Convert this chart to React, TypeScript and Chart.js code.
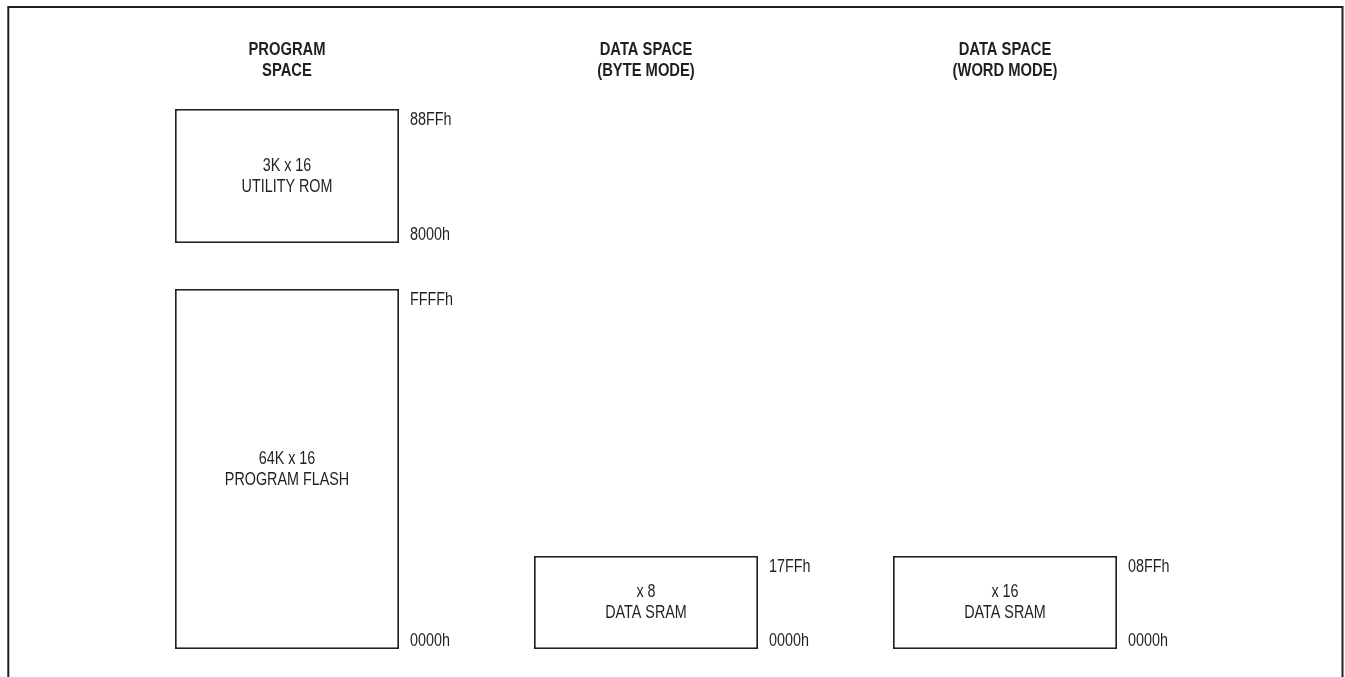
import React, { useEffect, useRef } from "react";
import { Chart, registerables } from "chart.js";

Chart.register(...registerables);

// ---- data ----
const columnKeys = ["program", "dataByte", "dataWord"];
const columnHeaders = [
  ["PROGRAM", "SPACE"],
  ["DATA SPACE", "(BYTE MODE)"],
  ["DATA SPACE", "(WORD MODE)"],
];
// block extents in schematic rows (diagram units)
const upperBlock = [[40.6, 54], null, null];
const lowerBlock = [[0, 36], [0, 9.3], [0, 9.3]];
const upperText = [["3K x 16", "UTILITY ROM"], null, null];
const lowerText = [
  ["64K x 16", "PROGRAM FLASH"],
  ["x 8", "DATA SRAM"],
  ["x 16", "DATA SRAM"],
];
const upperAddr = [["88FFh", "8000h"], null, null];
const lowerAddr = [
  ["FFFFh", "0000h"],
  ["17FFh", "0000h"],
  ["08FFh", "0000h"],
];

const FONT = "'Liberation Sans', Arial, sans-serif";
const INK = "#231f20";
const NARROW = 0.82;

function narrowText(ctx: CanvasRenderingContext2D, text: string, x: number, y: number, align: CanvasTextAlign) {
  ctx.save();
  ctx.translate(x, y);
  ctx.scale(NARROW, 1);
  ctx.textAlign = align;
  ctx.textBaseline = "alphabetic";
  ctx.fillText(text, 0, 0);
  ctx.restore();
}

const textPlugin = {
  id: "diagramText",
  beforeDraw(chart: any) {
    const { ctx, width, height } = chart;
    ctx.save();
    ctx.fillStyle = "#ffffff";
    ctx.fillRect(0, 0, width, height);
    ctx.strokeStyle = INK;
    ctx.lineWidth = 2;
    ctx.beginPath();
    ctx.moveTo(8.3, height);
    ctx.lineTo(8.3, 7);
    ctx.lineTo(1342.5, 7);
    ctx.lineTo(1342.5, height);
    ctx.stroke();
    ctx.restore();
  },
  afterDatasetsDraw(chart: any) {
    const { ctx, chartArea } = chart;
    const xs = chart.scales.x;
    ctx.save();
    ctx.fillStyle = INK;
    // column headers
    ctx.font = `bold 18px ${FONT}`;
    columnHeaders.forEach((lines, i) => {
      const x = xs.getPixelForValue(i);
      narrowText(ctx, lines[0], x, chartArea.top - 54, "center");
      narrowText(ctx, lines[1], x, chartArea.top - 33, "center");
    });
    const texts = [upperText, lowerText];
    const addrs = [upperAddr, lowerAddr];
    ctx.font = `17.5px ${FONT}`;
    chart.data.datasets.forEach((_ds: any, di: number) => {
      const meta = chart.getDatasetMeta(di);
      meta.data.forEach((bar: any, i: number) => {
        const t = texts[di][i];
        const a = addrs[di][i];
        if (!t || !a) return;
        const p = bar.getProps(["x", "y", "base", "width"], true);
        const top = Math.min(p.y, p.base);
        const bottom = Math.max(p.y, p.base);
        const mid = (top + bottom) / 2;
        narrowText(ctx, t[0], p.x, mid - 5.2, "center");
        narrowText(ctx, t[1], p.x, mid + 15.8, "center");
        const lx = p.x + p.width / 2 + 11;
        narrowText(ctx, a[0], lx, top + 15.5, "left");
        narrowText(ctx, a[1], lx, bottom - 3, "left");
      });
    });
    ctx.restore();
  },
};

export default function App() {
  const ref = useRef<HTMLCanvasElement | null>(null);
  useEffect(() => {
    if (!ref.current) return;
    const chart = new Chart(ref.current, {
      type: "bar",
      data: {
        labels: columnKeys,
        datasets: [
          {
            label: "upper",
            data: upperBlock as any,
            grouped: false,
            backgroundColor: "#ffffff",
            borderColor: INK,
            borderWidth: 1.8,
            borderSkipped: false,
            categoryPercentage: 1,
            barPercentage: 224 / 359,
          } as any,
          {
            label: "lower",
            data: lowerBlock as any,
            grouped: false,
            backgroundColor: "#ffffff",
            borderColor: INK,
            borderWidth: 1.8,
            borderSkipped: false,
            categoryPercentage: 1,
            barPercentage: 224 / 359,
          } as any,
        ],
      },
      options: {
        responsive: false,
        devicePixelRatio: 1,
        animation: false,
        layout: { padding: { left: 107.5, right: 160.5, top: 109, bottom: 28 } },
        plugins: { legend: { display: false }, tooltip: { enabled: false } },
        scales: {
          x: { display: false, offset: true },
          y: { display: false, min: 0, max: 54 },
        },
      },
      plugins: [textPlugin],
    });
    return () => chart.destroy();
  }, []);
  return (
    <canvas
      ref={ref}
      width={1345}
      height={677}
      style={{ position: "fixed", left: 0, top: 0, width: 1345, height: 677 }}
    />
  );
}
